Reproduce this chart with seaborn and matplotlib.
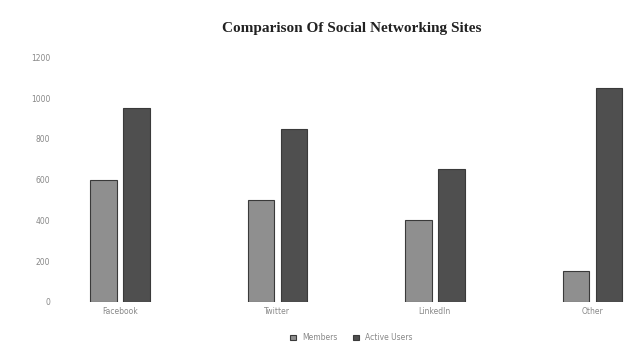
import pandas as pd
import seaborn as sns
import matplotlib.pyplot as plt

# data
sites = ['Facebook', 'Twitter', 'LinkedIn', 'Other']
members = [600, 500, 400, 150]
active_users = [950, 850, 650, 1050]
y_ticks = [0, 200, 400, 600, 800, 1000, 1200]

df = pd.DataFrame({'Site': sites * 2,
                   'Value': members + active_users,
                   'Series': ['Members'] * 4 + ['Active Users'] * 4})

sns.set_style('white')

fig, ax = plt.subplots(figsize=(6.32, 3.47), dpi=100)
sns.barplot(data=df, x='Site', y='Value', hue='Series',
            palette=['#8f8f8f', '#4f4f4f'], width=0.42, gap=0.2,
            edgecolor='#3a3a3a', linewidth=0.8, ax=ax)

ax.set_ylim(0, 1200)
ax.set_xlim(-0.3, 3.24)
ax.set_yticks(y_ticks)
ax.tick_params(axis='both', labelsize=5.5, colors='#888888', length=0)
ax.tick_params(axis='y', pad=16)
ax.set_xlabel('')
ax.set_ylabel('')
sns.despine(left=True, bottom=True)

ax.set_title('Comparison Of Social Networking Sites', fontsize=11,
             fontweight='bold', family='Liberation Serif', color='#222222', pad=18)

ax.legend(loc='upper center', bbox_to_anchor=(0.5, -0.1), ncol=2,
          frameon=False, fontsize=5.5, handlelength=0.8, handleheight=0.8,
          labelcolor='#888888')

fig.subplots_adjust(left=0.115, right=0.997, top=0.835, bottom=0.13)
fig.savefig('out.png', dpi=100)
